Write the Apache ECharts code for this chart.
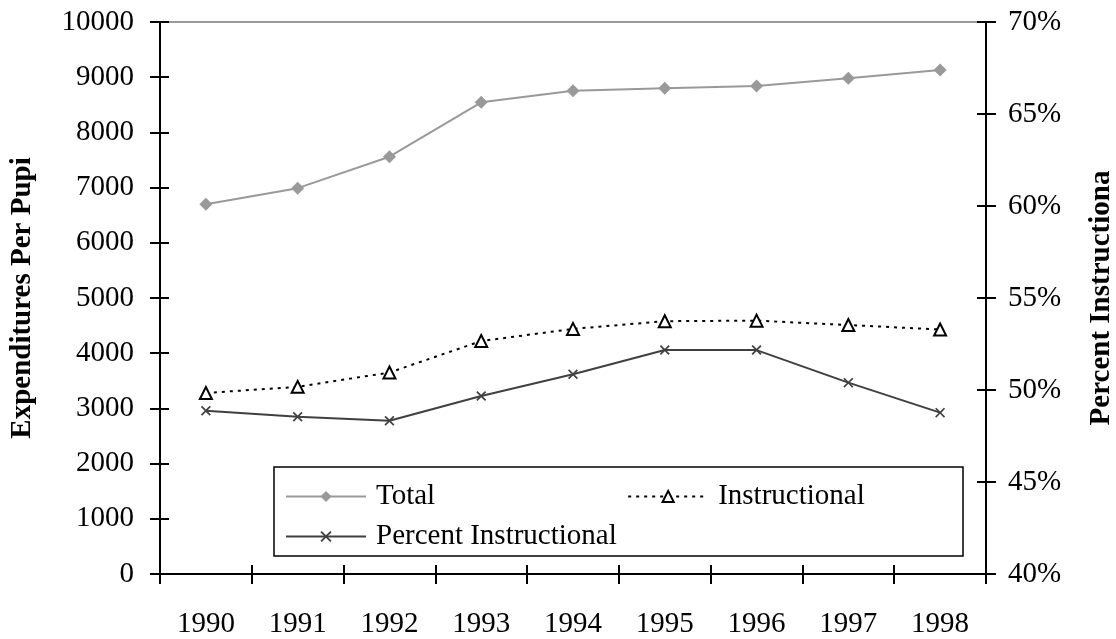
<!DOCTYPE html>
<html>
<head>
<meta charset="utf-8">
<script src="https://cdn.jsdelivr.net/npm/echarts@6/dist/echarts.min.js"></script>
<style>
  html, body { margin: 0; padding: 0; background: #fff; }
  #chart { width: 1116px; height: 639px; }
</style>
</head>
<body>
<div id="chart"></div>
<script>
// values
var years = ['1990', '1991', '1992', '1993', '1994', '1995', '1996', '1997', '1998']
var totalPerPupil = [6700, 6990, 7560, 8545, 8755, 8800, 8840, 8980, 9130]
var instructionalPerPupil = [3280, 3390, 3650, 4220, 4440, 4580, 4590, 4510, 4430]
var percentInstructional = [48.87, 48.55, 48.33, 49.67, 50.86, 52.17, 52.17, 50.4, 48.77]

var serif = 'Liberation Serif'
var fontSize = 29
var crossMark = 'path://M0,1.2L1.2,0L5,3.8L8.8,0L10,1.2L6.2,5L10,8.8L8.8,10L5,6.2L1.2,10L0,8.8L3.8,5Z'

var chart = echarts.init(document.getElementById('chart'))

chart.setOption({
  backgroundColor: '#fff',
  animation: false,
  grid: {
    left: 160,
    right: 130,
    top: 22,
    bottom: 65,
    outerBoundsMode: 'none',
    containLabel: false,
    show: true,
    borderColor: '#9a9a9a',
    borderWidth: 2
  },
  graphic: [{
    type: 'rect',
    shape: { x: 274, y: 467, width: 689, height: 89 },
    style: { fill: '#fff', stroke: '#000', lineWidth: 1.5 },
    z: 5
  }],
  legend: [{
    data: ['Total', 'Instructional'],
    left: 280,
    top: 477,
    itemGap: 192,
    itemWidth: 80,
    itemHeight: 14,
    textStyle: { fontFamily: serif, fontSize: fontSize, color: '#000', padding: [0, 0, 0, 5] },
    z: 6
  }, {
    data: ['Percent Instructional'],
    left: 280,
    top: 517,
    itemWidth: 80,
    itemHeight: 14,
    textStyle: { fontFamily: serif, fontSize: fontSize, color: '#000', padding: [0, 0, 0, 5] },
    z: 6
  }],
  xAxis: [{
    type: 'category',
    data: years,
    boundaryGap: true,
    axisLine: { lineStyle: { color: '#000', width: 2 } },
    axisTick: { show: true, inside: false, length: 10, lineStyle: { color: '#000', width: 2 } },
    axisLabel: { fontFamily: serif, fontSize: fontSize, color: '#000', margin: 36 },
    splitLine: { show: false }
  }, {
    type: 'category',
    data: years,
    position: 'bottom',
    boundaryGap: true,
    axisLine: { show: false },
    axisTick: { show: true, inside: true, length: 9, lineStyle: { color: '#000', width: 2 } },
    axisLabel: { show: false },
    splitLine: { show: false }
  }],
  yAxis: [{
    type: 'value',
    position: 'left',
    min: 0,
    max: 10000,
    interval: 1000,
    name: 'Expenditures Per Pupi',
    nameLocation: 'middle',
    nameRotate: 90,
    nameGap: 123,
    nameMoveOverlap: false,
    nameTextStyle: { fontFamily: serif, fontSize: fontSize, fontWeight: 'bold', color: '#000' },
    axisLine: { show: true, lineStyle: { color: '#000', width: 2 } },
    axisTick: { show: true, inside: false, length: 10, lineStyle: { color: '#000', width: 2 } },
    axisLabel: {
      fontFamily: serif, fontSize: fontSize, color: '#000', margin: 26,
      formatter: function (v) { return String(v) }
    },
    splitLine: { show: false }
  }, {
    type: 'value',
    position: 'right',
    min: 40,
    max: 70,
    interval: 5,
    name: 'Percent Instructiona',
    nameLocation: 'middle',
    nameRotate: 90,
    nameGap: 101,
    nameMoveOverlap: false,
    nameTextStyle: { fontFamily: serif, fontSize: fontSize, fontWeight: 'bold', color: '#000' },
    axisLine: { show: true, lineStyle: { color: '#000', width: 2 } },
    axisTick: { show: true, inside: false, length: 10, lineStyle: { color: '#000', width: 2 } },
    axisLabel: { fontFamily: serif, fontSize: fontSize, color: '#000', margin: 22, formatter: '{value}%' },
    splitLine: { show: false }
  }, {
    type: 'value',
    position: 'left',
    min: 0,
    max: 10000,
    interval: 1000,
    axisLine: { show: false },
    axisTick: { show: true, inside: true, length: 9, lineStyle: { color: '#000', width: 2 } },
    axisLabel: { show: false },
    splitLine: { show: false }
  }, {
    type: 'value',
    position: 'right',
    min: 40,
    max: 70,
    interval: 5,
    axisLine: { show: false },
    axisTick: { show: true, inside: true, length: 9, lineStyle: { color: '#000', width: 2 } },
    axisLabel: { show: false },
    splitLine: { show: false }
  }],
  series: [{
    name: 'Total',
    type: 'line',
    yAxisIndex: 0,
    data: totalPerPupil,
    symbol: 'diamond',
    symbolSize: 13,
    lineStyle: { color: '#999', width: 2 },
    itemStyle: { color: '#999' },
    z: 3
  }, {
    name: 'Instructional',
    type: 'line',
    yAxisIndex: 0,
    data: instructionalPerPupil,
    symbol: 'triangle',
    symbolSize: 12,
    lineStyle: { color: '#000', width: 2, type: [3, 5] },
    itemStyle: { color: '#fff', borderColor: '#000', borderWidth: 2 },
    z: 3
  }, {
    name: 'Percent Instructional',
    type: 'line',
    yAxisIndex: 1,
    data: percentInstructional,
    symbol: crossMark,
    symbolSize: 10,
    lineStyle: { color: '#404040', width: 2 },
    itemStyle: { color: '#404040' },
    z: 3
  }]
})
</script>
</body>
</html>
